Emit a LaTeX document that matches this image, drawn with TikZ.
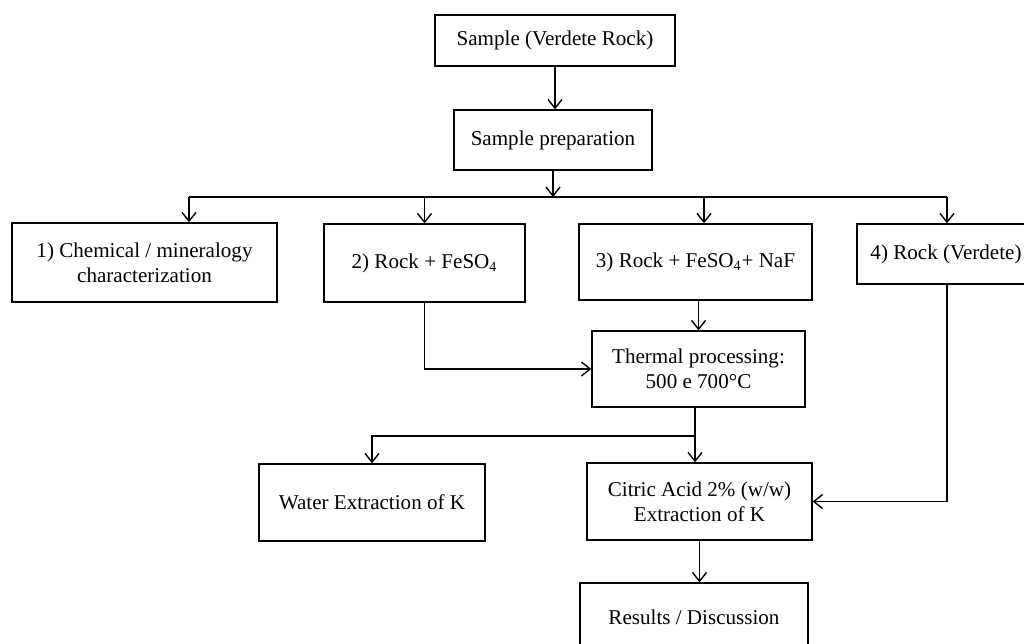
\documentclass[tikz,border=0pt]{standalone}
\usepackage{fontspec}
\setmainfont{Liberation Serif}
\usetikzlibrary{arrows.meta}

\tikzset{
  box/.style={draw, line width=0.8pt, align=center, inner sep=2pt,
    font=\fontsize{12}{14}\selectfont},
  flow/.style={->, line width=0.8pt}
}

\begin{document}
\begin{tikzpicture}[x=0.02cm, y=-0.02cm, >={Straight Barb[length=5pt,width=8pt]}]
    \useasboundingbox (0,0) rectangle (1024,643);
    % boxes
    \node[box, minimum width=4.8cm, minimum height=1.02cm] (src) at (555,40.5) {Sample (Verdete Rock)};
    \node[box, minimum width=3.96cm, minimum height=1.2cm] (prep) at (553,140) {Sample preparation};
    \node[box, minimum width=5.3cm, minimum height=1.58cm] (chem) at (144.5,262.5) {1) Chemical / mineralogy\\characterization};
    \node[box, minimum width=4.02cm, minimum height=1.56cm] (rfe) at (424.5,263) {2) Rock + FeSO\textsubscript{4}};
    \node[box, minimum width=4.66cm, minimum height=1.52cm] (rfenaf) at (695.5,262) {3) Rock + FeSO\textsubscript{4}+ NaF};
    \node[box, minimum width=3.56cm, minimum height=1.2cm] (rock) at (946,254) {4) Rock (Verdete)};
    \node[box, minimum width=4.26cm, minimum height=1.52cm] (therm) at (698.5,369) {Thermal processing:\\500 e 700°C};
    \node[box, minimum width=4.52cm, minimum height=1.54cm] (water) at (372,502.5) {Water Extraction of K};
    \node[box, minimum width=4.5cm, minimum height=1.54cm] (citric) at (699.5,501.5) {Citric Acid 2\% (w/w)\\Extraction of K};
    \node[box, minimum width=4.56cm, minimum height=1.36cm] (res) at (694,617) {Results / Discussion};

    % splitting points
    \coordinate (busL) at (189,197);
    \coordinate (busR) at (947,197);
    \coordinate (bus3) at (704,197);
    \coordinate (split) at (695,436);

    % connectors
    \draw[flow] (src.south) -- (src.south |- prep.north);
    \draw[flow] (prep.south) -- (prep.south |- busL);
    \draw[line width=0.8pt] (busL) -- (busR);
    \draw[flow] (busL) -- (busL |- chem.north);
    \draw[flow] (busL -| rfe.north) -- (rfe.north);
    \draw[flow] (bus3) -- (bus3 |- rfenaf.north);
    \draw[flow] (busR) -- (busR |- rock.north);
    \draw[flow] (rfenaf.south -| therm.north) -- (therm.north);
    \draw[flow] (rfe.south) |- (therm.west);
    \draw[flow] (split |- therm.south) -- (split |- citric.north);
    \draw[flow] (split) -| (water.north);
    \draw[flow] (rock.south -| busR) |- (citric.east);
    \draw[flow] (citric.south) -- (citric.south |- res.north);
\end{tikzpicture}
\end{document}
